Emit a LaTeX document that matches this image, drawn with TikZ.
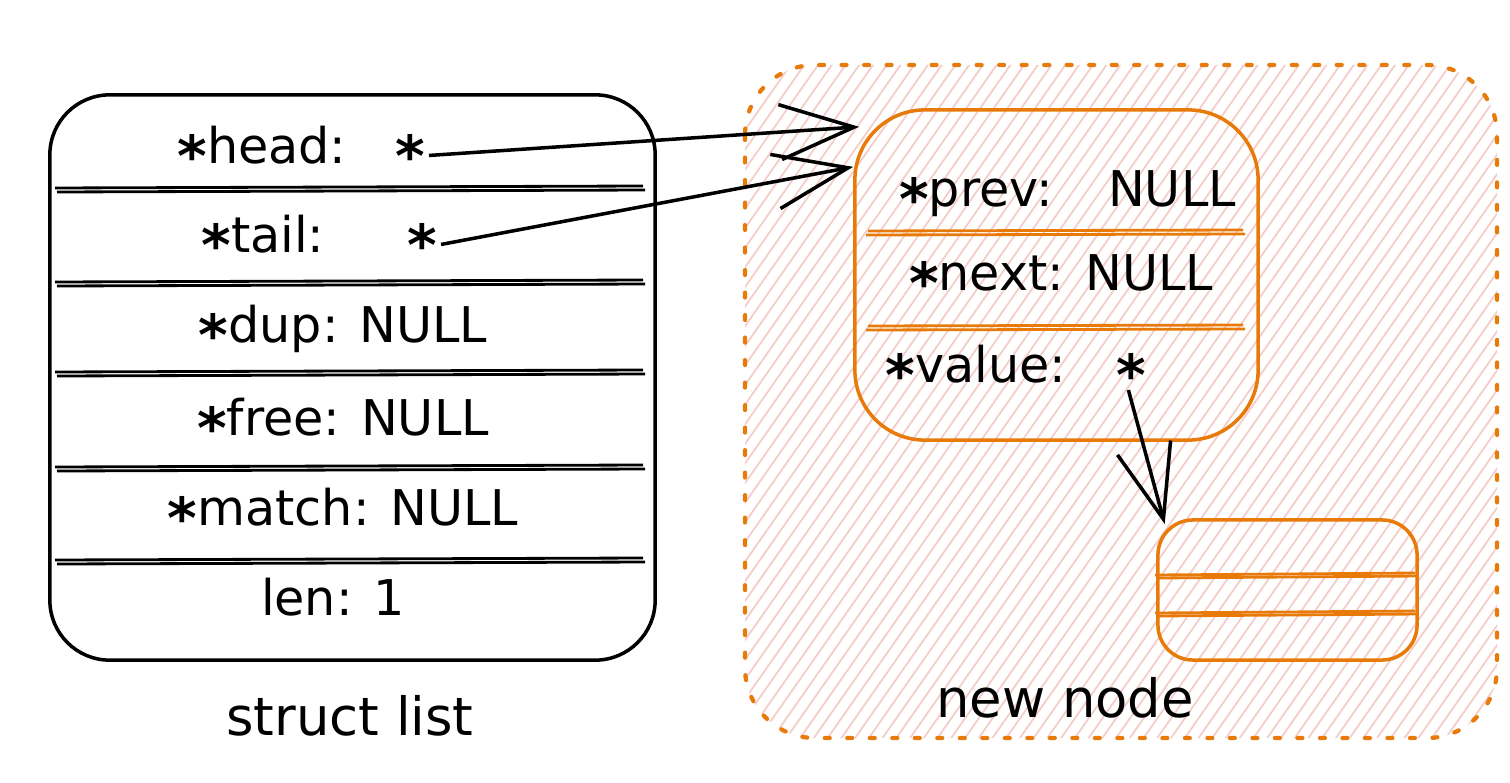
\documentclass[tikz,border=0pt]{standalone}
\usepackage{fontspec}
\setmainfont{DejaVu Sans}
\usetikzlibrary{arrows.meta,patterns.meta,calc}
\definecolor{orng}{RGB}{232,122,10}
\definecolor{hatchc}{RGB}{244,204,200}
\newcommand\stAr{\raisebox{-0.5ex}{\scalebox{1.15}{\textbf{*}}}}
\begin{document}
\begin{tikzpicture}[x=0.01cm,y=-0.01cm,
  txt/.style={font=\fontsize{14}{17}\selectfont, inner sep=1pt, anchor=base},
  box/.style={draw, line width=1pt},
  ob/.style={box, draw=orng},
  sep/.style={line width=0.8pt},
  osep/.style={sep, draw=orng},
  ptr/.style={line width=1pt, -{Straight Barb[length=0.74cm,width=0.55cm,line width=1pt]}}
]
\useasboundingbox (0,0) rectangle (1510,782);
\fill[white] (0,0) rectangle (1510,782);
% hatched region
\fill[pattern={Lines[angle=55,distance=3.2pt,line width=0.5pt]}, pattern color=hatchc, rounded corners=0.7cm] (745,65) rectangle (1497,738);
\draw[orng, line width=1.2pt, dash pattern=on 1.4pt off 5pt, line cap=round, rounded corners=0.7cm] (745,65) rectangle (1497,738);

% struct list box
\node[box, rounded corners=0.6cm, minimum width=6.05cm, minimum height=5.65cm] (list) at (352.5,377.5) {};
\foreach \yy in {188,282,372,467,560}{
  \draw[sep] (55,\yy) -- (643,\yy-2);
  \draw[sep] (57,\yy+4) -- (645,\yy+2);
}
\node[txt] (hl) at (262,163) {\stAr head:};
\node[txt] (hs) at (410,163) {\stAr};
\node[txt] (tl) at (263,252) {\stAr tail:};
\node[txt] (ts) at (422,252) {\stAr};
\node[txt] (dup) at (343,342) {\stAr dup: NULL};
\node[txt] (free) at (343,435) {\stAr free: NULL};
\node[txt] (match) at (343,525) {\stAr match: NULL};
\node[txt] (len) at (333,615) {len: 1};
\node[txt, font=\fontsize{15}{18}\selectfont] (sl) at (350,735) {struct list};

% new node box
\node[ob, rounded corners=0.7cm, minimum width=4.03cm, minimum height=3.3cm] (nn) at (1056.5,275) {};
\foreach \yy in {231,326}{
  \draw[osep] (868,\yy) -- (1243,\yy-1);
  \draw[osep] (866,\yy+4) -- (1245,\yy+3);
}
\node[txt] (pl) at (976,206) {\stAr prev:};
\node[txt] (pv) at (1172,206) {NULL};
\node[txt] (nx) at (1061,290) {\stAr next: NULL};
\node[txt] (vl) at (976,382) {\stAr value:};
\node[txt] (vs) at (1131,382) {\stAr};

% small box
\node[ob, rounded corners=0.35cm, minimum width=2.59cm, minimum height=1.4cm] (sb) at (1287.5,590) {};
\foreach \yy in {573,611}{
  \draw[osep] (1155,\yy+2) -- (1415,\yy);
  \draw[osep] (1157,\yy+5) -- (1418,\yy+3);
}
\node[txt, font=\fontsize{15}{18}\selectfont] (nl) at (1065,717) {new node};

% pointers
\draw[ptr, shorten >=-0.06cm] (hs.east) -- (nn.144);
\draw[ptr] (ts.east) -- (nn.152);
\draw[ptr, shorten <=-0.1cm, shorten >=-0.06cm] (vs.south) -- (sb.150);
\end{tikzpicture}
\end{document}
